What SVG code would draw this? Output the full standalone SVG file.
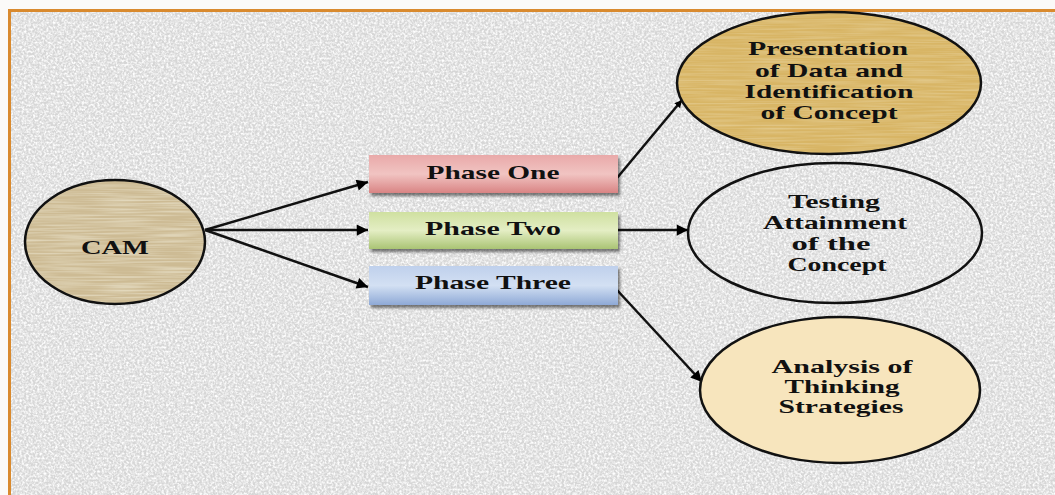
<svg xmlns="http://www.w3.org/2000/svg" width="1055" height="495" viewBox="0 0 1055 495">
<defs>
  <filter id="speckle" x="0" y="0" width="100%" height="100%">
    <feTurbulence type="fractalNoise" baseFrequency="0.45" numOctaves="2" seed="3" result="n"/>
    <feColorMatrix in="n" type="matrix" values="0 0 0 0 1  0 0 0 0 1  0 0 0 0 1  0 0 0 -2.2 1.45" result="w"/>
    <feComposite in="w" in2="SourceGraphic" operator="in"/>
  </filter>
  <filter id="weave" x="0" y="0" width="100%" height="100%">
    <feTurbulence type="fractalNoise" baseFrequency="0.02 0.6" numOctaves="1" seed="7" result="n"/>
    <feColorMatrix in="n" type="matrix" values="0 0 0 0 1  0 0 0 0 1  0 0 0 0 0.9  0 0 0 -1.6 1.0" result="w"/>
    <feComposite in="w" in2="SourceGraphic" operator="in"/>
  </filter>
  <filter id="shadow" x="-10%" y="-30%" width="120%" height="170%">
    <feGaussianBlur in="SourceAlpha" stdDeviation="1.5"/>
    <feOffset dx="2" dy="3" result="b"/>
    <feComponentTransfer><feFuncA type="linear" slope="0.5"/></feComponentTransfer>
    <feMerge><feMergeNode/><feMergeNode in="SourceGraphic"/></feMerge>
  </filter>
  <linearGradient id="gRed" x1="0" y1="0" x2="0" y2="1">
    <stop offset="0" stop-color="#e9a9a9"/><stop offset="0.5" stop-color="#f1c4c2"/><stop offset="1" stop-color="#d98484"/>
  </linearGradient>
  <linearGradient id="gGreen" x1="0" y1="0" x2="0" y2="1">
    <stop offset="0" stop-color="#cfe0a0"/><stop offset="0.5" stop-color="#e4eec4"/><stop offset="1" stop-color="#aac474"/>
  </linearGradient>
  <linearGradient id="gBlue" x1="0" y1="0" x2="0" y2="1">
    <stop offset="0" stop-color="#bfd0ec"/><stop offset="0.5" stop-color="#d3e0f3"/><stop offset="1" stop-color="#8ea9d6"/>
  </linearGradient>
  <marker id="arr" viewBox="0 0 10 10" refX="10" refY="5" markerWidth="6" markerHeight="4.5" markerUnits="strokeWidth" orient="auto">
    <path d="M0,0 L10,5 L0,10 z" fill="#000"/>
  </marker>
  <marker id="arrSmall" viewBox="0 0 10 10" refX="10" refY="5" markerWidth="3" markerHeight="3" markerUnits="strokeWidth" orient="auto">
    <path d="M0,0 L10,5 L0,10 z" fill="#000"/>
  </marker>
</defs>
<style>
  .t { font-family: "Liberation Serif", "Times New Roman", serif; font-weight: bold; font-size: 19px; fill: #111; text-anchor: middle; }
  .ell { stroke: #111; stroke-width: 2.5; }
  .box { stroke: none; }
  .con { stroke: #111; stroke-width: 2.5; fill: none; }
</style>

<rect x="0" y="0" width="1055" height="495" fill="#fbfaf8"/>
<rect x="9" y="10" width="1046" height="485" fill="#d6d6d6"/>
<rect x="9" y="10" width="1046" height="485" fill="#d6d6d6" filter="url(#speckle)"/>
<path d="M9.5,495 L9.5,10.5 L1055,10.5" fill="none" stroke="#d98a2e" stroke-width="3"/>

<g id="connectors">
  <line class="con" x1="205" y1="230" x2="368" y2="182" marker-end="url(#arr)"/>
  <line class="con" x1="205" y1="230" x2="368" y2="230" marker-end="url(#arr)"/>
  <line class="con" x1="205" y1="230" x2="368" y2="287" marker-end="url(#arr)"/>
  <line class="con" x1="617" y1="178" x2="682" y2="100" marker-end="url(#arrSmall)"/>
  <line class="con" x1="618" y1="230" x2="688" y2="230" marker-end="url(#arr)"/>
  <line class="con" x1="617" y1="290" x2="702" y2="382" marker-end="url(#arr)"/>
</g>

<g id="cam">
  <ellipse cx="115" cy="242" rx="90" ry="62" fill="#cdbb94"/>
  <ellipse cx="115" cy="242" rx="90" ry="62" fill="#cdbb94" filter="url(#weave)" opacity="0.6"/>
  <ellipse class="ell" cx="115" cy="242" rx="90" ry="62" fill="none"/>
  <text class="t" x="115" y="254" textLength="68" lengthAdjust="spacingAndGlyphs">CAM</text>
</g>

<g id="phase-one">
  <rect class="box" x="369" y="155" width="249" height="38" fill="url(#gRed)" filter="url(#shadow)"/>
  <text class="t" x="493" y="179" textLength="133" lengthAdjust="spacingAndGlyphs">Phase One</text>
</g>

<g id="phase-two">
  <rect class="box" x="369" y="212" width="249" height="37" fill="url(#gGreen)" filter="url(#shadow)"/>
  <text class="t" x="493" y="235" textLength="136" lengthAdjust="spacingAndGlyphs">Phase Two</text>
</g>

<g id="phase-three">
  <rect class="box" x="369" y="266" width="249" height="39" fill="url(#gBlue)" filter="url(#shadow)"/>
  <text class="t" x="493" y="289" textLength="156" lengthAdjust="spacingAndGlyphs">Phase Three</text>
</g>

<g id="presentation">
  <ellipse cx="829" cy="83" rx="152" ry="71" fill="#d8b565"/>
  <ellipse cx="829" cy="83" rx="152" ry="71" fill="#d8b565" filter="url(#weave)" opacity="0.35"/>
  <ellipse class="ell" cx="829" cy="83" rx="152" ry="71" fill="none"/>
  <text class="t" x="828" y="55" textLength="160" lengthAdjust="spacingAndGlyphs">Presentation</text>
  <text class="t" x="829" y="77" textLength="148" lengthAdjust="spacingAndGlyphs">of Data and</text>
  <text class="t" x="829" y="98" textLength="169" lengthAdjust="spacingAndGlyphs">Identification</text>
  <text class="t" x="829" y="119" textLength="137" lengthAdjust="spacingAndGlyphs">of Concept</text>
</g>

<g id="testing">
  <ellipse class="ell" cx="835" cy="233" rx="147" ry="70" fill="none"/>
  <text class="t" x="834" y="208" textLength="92" lengthAdjust="spacingAndGlyphs">Testing</text>
  <text class="t" x="835" y="229" textLength="144" lengthAdjust="spacingAndGlyphs">Attainment</text>
  <text class="t" x="831" y="250" textLength="79" lengthAdjust="spacingAndGlyphs">of the</text>
  <text class="t" x="837" y="271" textLength="99" lengthAdjust="spacingAndGlyphs">Concept</text>
</g>

<g id="analysis">
  <ellipse class="ell" cx="840" cy="390" rx="140" ry="73" fill="#f7e5bd"/>
  <text class="t" x="842" y="373" textLength="141" lengthAdjust="spacingAndGlyphs">Analysis of</text>
  <text class="t" x="842" y="393" textLength="115" lengthAdjust="spacingAndGlyphs">Thinking</text>
  <text class="t" x="841" y="413" textLength="125" lengthAdjust="spacingAndGlyphs">Strategies</text>
</g>
</svg>
